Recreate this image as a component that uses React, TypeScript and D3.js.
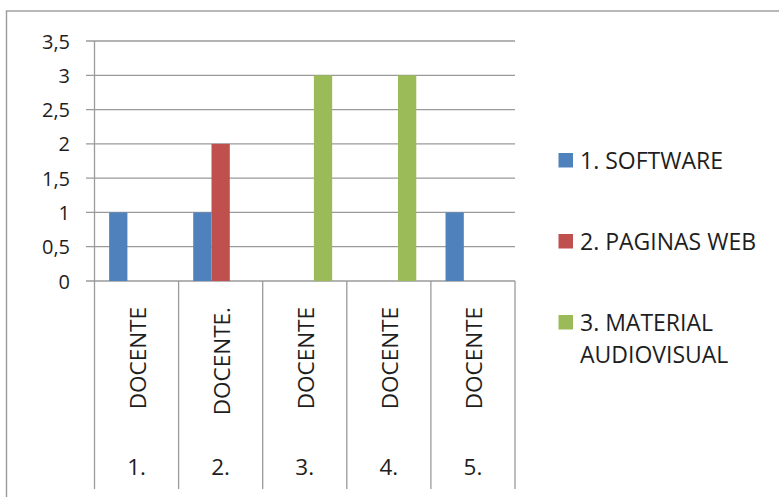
import React from 'react';
import * as d3 from 'd3';

// data
const categories = ['1.', '2.', '3.', '4.', '5.'];
const subLabels = ['DOCENTE', 'DOCENTE.', 'DOCENTE', 'DOCENTE', 'DOCENTE'];
const seriesNames = ['1. SOFTWARE', '2. PAGINAS WEB', '3. MATERIAL AUDIOVISUAL'];
const software = [1, 1, 0, 0, 1];
const paginasWeb = [0, 2, 0, 0, 0];
const materialAudiovisual = [0, 0, 3, 3, 0];
const yTicks = [0, 0.5, 1, 1.5, 2, 2.5, 3, 3.5];

const colors = ['#4F81BD', '#C0504D', '#9BBB59'];
const allSeries = [software, paginasWeb, materialAudiovisual];

const W = 779;
const H = 497;
const plot = { left: 94.5, right: 515, top: 41, bottom: 281 };
const font = '"Open Sans", sans-serif';
const textColor = '#1e1e1e';
const lineColor = '#9a9a9a';

const App = () => {
    const x = d3.scaleBand<string>().domain(categories).range([plot.left, plot.right]);
    const inner = d3.scaleBand<number>()
        .domain(d3.range(allSeries.length))
        .range([0, x.bandwidth()])
        .paddingInner(0)
        .paddingOuter(0.8);
    const y = d3.scaleLinear().domain([0, 3.5]).range([plot.bottom, plot.top]);

    const fmt = (v: number) => String(v).replace('.', ',');

    // category boundaries
    const bounds = categories.map(c => x(c) as number).concat([plot.right]);

    // legend rows (third label wraps)
    const legendY = [160, 241, 322];
    const legendLines = [['1. SOFTWARE'], ['2. PAGINAS WEB'], ['3. MATERIAL', 'AUDIOVISUAL']];

    return (
        <svg width={W} height={H} style={{ position: 'absolute', left: 0, top: 0, background: '#fff' }}
            fontFamily={font}>
            {/* outer chart border */}
            <rect x={6.5} y={11} width={W + 20} height={H + 20} fill="none" stroke={lineColor} strokeWidth={1.4} />

            {/* gridlines + ticks */}
            {yTicks.map(t => (
                <g key={t}>
                    <line x1={86} x2={plot.right} y1={y(t)} y2={y(t)} stroke={lineColor} strokeWidth={1.3} />
                    <text x={70} y={y(t)} textAnchor="end" dominantBaseline="central"
                        fontSize={20} fill={textColor}>{fmt(t)}</text>
                </g>
            ))}

            {/* value axis line */}
            <line x1={plot.left} x2={plot.left} y1={plot.top} y2={plot.bottom} stroke={lineColor} strokeWidth={1.3} />

            {/* category separators */}
            {bounds.map((b, i) => (
                <line key={i} x1={b} x2={b} y1={plot.bottom} y2={489} stroke={lineColor} strokeWidth={1.3} />
            ))}

            {/* bars */}
            {allSeries.map((vals, si) => vals.map((v, ci) => v > 0 ? (
                <rect key={`${si}-${ci}`}
                    x={(x(categories[ci]) as number) + (inner(si) as number)}
                    y={y(v)}
                    width={inner.bandwidth()}
                    height={y(0) - y(v)}
                    fill={colors[si]} />
            ) : null))}

            {/* category labels */}
            {categories.map((c, i) => {
                const cx = (x(c) as number) + x.bandwidth() / 2;
                return (
                    <g key={c}>
                        <text transform={`translate(${cx + 1},307) rotate(-90)`} textAnchor="end"
                            dominantBaseline="central" fontSize={22.5} fill={textColor}>{subLabels[i]}</text>
                        <text x={cx} y={475} textAnchor="middle" fontSize={22.5} fill={textColor}>{c}</text>
                    </g>
                );
            })}

            {/* legend */}
            {seriesNames.map((s, i) => (
                <g key={s}>
                    <rect x={558.5} y={legendY[i] - 7} width={14.5} height={14.5} fill={colors[i]} />
                    {legendLines[i].map((ln, j) => (
                        <text key={j} x={580} y={legendY[i] + j * 32} dominantBaseline="central"
                            fontSize={23} fill={textColor}>{ln}</text>
                    ))}
                </g>
            ))}
        </svg>
    );
};

export default App;
